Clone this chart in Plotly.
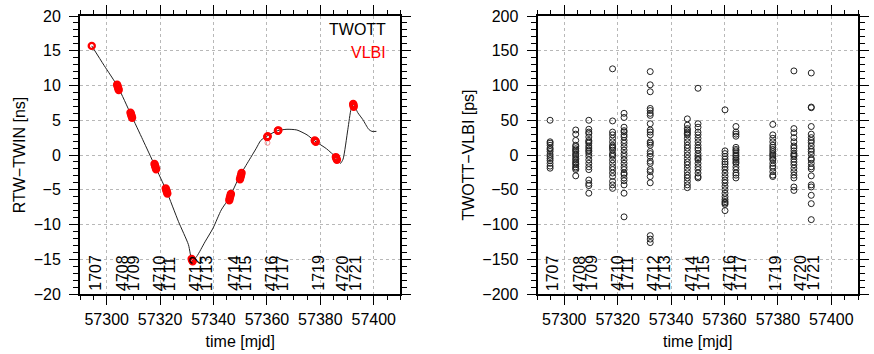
import plotly.graph_objects as go

# ---------------- data ----------------
# TWOTT curve (RTW-TWIN, ns)
twott_mjd = [57294.4, 57299.0, 57304.2, 57309.1, 57313.5, 57318.1, 57322.3, 57326.9, 57330.6,
             57332.0, 57333.7, 57336.8, 57339.85, 57342.9, 57346.0, 57349.7, 57353.4, 57355.9,
             57357.7, 57359.9, 57363.9, 57367.5, 57371.2, 57375.0, 57378.0, 57382.3, 57386.0,
             57387.5, 57388.5, 57390.3, 57391.5, 57392.4, 57394.0, 57395.9, 57398.1, 57399.3, 57401.0]
twott_ns = [15.7, 12.9, 9.8, 5.8, 2.2, -1.6, -5.1, -9.6, -12.9,
            -15.2, -14.6, -12.5, -10.5, -7.9, -6.1, -3.1, -0.7, 0.9,
            2.1, 2.7, 3.5, 3.7, 3.6, 2.9, 2.0, 0.9, -0.4,
            -1.2, -0.6, 3.7, 6.6, 7.3, 6.1, 5.1, 3.7, 3.4, 3.4]

# VLBI points (ns)
vlbi_mjd = [57294.4,
            57303.9, 57304.1, 57304.3, 57304.5,
            57308.9, 57309.1, 57309.3, 57309.5,
            57317.9, 57318.1, 57318.3, 57318.5,
            57322.1, 57322.3, 57322.5, 57322.7,
            57331.8, 57332.0, 57332.2,
            57345.9, 57346.1, 57346.3, 57346.5,
            57349.9, 57350.1, 57350.3, 57350.5,
            57360.1, 57360.3,
            57364.1, 57364.3,
            57377.9, 57378.1, 57378.3,
            57385.8, 57386.0, 57386.2,
            57392.3, 57392.4, 57392.5]
vlbi_ns = [15.7,
           10.1, 9.85, 9.6, 9.35,
           6.1, 5.85, 5.6, 5.35,
           -1.3, -1.55, -1.8, -2.05,
           -4.8, -5.05, -5.3, -5.55,
           -14.95, -15.15, -15.3,
           -6.5, -6.2, -5.9, -5.6,
           -3.5, -3.2, -2.9, -2.6,
           2.6, 2.7,
           3.5, 3.55,
           2.1, 2.0, 1.9,
           -0.3, -0.5, -0.7,
           7.35, 7.15, 6.95]
vlbi_faint_mjd = [57360.2]
vlbi_faint_ns = [1.75]

# session labels
session_labels = ["1707", "4708", "1709", "4710", "1711", "4712", "1713",
                  "4714", "1715", "4716", "1717", "1719", "4720", "1721"]
session_mjd = [57295.5, 57305.7, 57309.9, 57319.7, 57323.6, 57333.2, 57337.3,
               57347.6, 57351.9, 57361.6, 57365.7, 57379.0, 57388.2, 57393.0]

# TWOTT-VLBI differences (ps) per session
diff_mjd = [57294.7, 57304.3, 57309.2, 57318.1, 57322.4, 57332.2, 57346.1,
            57350.1, 57360.2, 57364.3, 57378.1, 57386.0, 57392.5]
d_1707 = [50, 19, 17, 14, 10, 8, 5, 1, -2, -5, -8, -12, -16, -19]
d_4708 = [36, 30, 21, 14, 12, 9, 7, 5, 2, 0, -2, -5, -7, -10, -12, -14, -17, -19, -21, -30]
d_1709 = [50, 37, 33, 31, 26, 21, 19, 17, 13, 10, 7, 5, 2, -2, -7, -12, -17, -21, -36, -41, -44, -55]
d_4710 = [124, 49, 33, 29, 24, 19, 14, 12, 10, 7, 2, 0, -2, -7, -12, -17, -21, -26, -31, -38, -43, -48]
d_1711 = [60, 54, 40, 35, 33, 29, 26, 21, 17, 12, 7, 2, -2, -7, -12, -17, -21, -26, -28, -33, -37,
          -43, -55, -89]
d_4712 = [120, 101, 91, 67, 64, 60, 57, 45, 36, 33, 29, 19, 17, 14, 5, 2, -2, -9, -12, -21, -24,
          -31, -40, -116, -121, -126]
d_4714 = [52, 43, 38, 36, 33, 31, 29, 24, 19, 14, 10, 5, 0, -5, -10, -14, -19, -24, -29, -33, -38,
          -43, -47]
d_1715 = [96, 45, 40, 33, 29, 24, 19, 14, 10, 7, 2, -2, -5, -7, -12, -17, -21, -26, -31, -33]
d_4716 = [65, 6, 2, -2, -6, -10, -13, -17, -21, -26, -31, -36, -40, -45, -50, -55, -60, -64, -67,
          -69, -71, -80]
d_1717 = [41, 33, 30, 27, 11, 8, 6, 3, 0, -2, -5, -7, -10, -12, -17, -21, -26, -29, -33]
d_1719 = [44, 29, 24, 19, 14, 11, 8, 5, 2, 0, -2, -5, -7, -12, -16, -19, -24, -29, -31]
d_4720 = [121, 38, 32, 25, 19, 13, 10, 6, 2, 0, -2, -6, -10, -14, -19, -24, -29, -33, -46, -51]
d_1721 = [118, 69, 68, 41, 30, 25, 21, 18, 13, 8, 5, 1, -5, -7, -12, -17, -20, -30, -43, -46, -58,
          -70, -93]
diff_groups = [d_1707, d_4708, d_1709, d_4710, d_1711, d_4712, d_4714, d_1715,
               d_4716, d_1717, d_1719, d_4720, d_1721]

# ---------------- figure ----------------
FONT = "Liberation Sans"
fig = go.Figure()

fig.add_trace(go.Scatter(x=twott_mjd, y=twott_ns, mode="lines",
                         line=dict(color="#222222", width=1, shape="spline", smoothing=0.6),
                         xaxis="x", yaxis="y", showlegend=False))
fig.add_trace(go.Scatter(x=vlbi_faint_mjd, y=vlbi_faint_ns, mode="markers",
                         marker=dict(symbol="circle-open", size=5, color="rgba(230,80,80,0.6)",
                                     line=dict(width=1)),
                         xaxis="x", yaxis="y", showlegend=False))
fig.add_trace(go.Scatter(x=vlbi_mjd, y=vlbi_ns, mode="markers",
                         marker=dict(symbol="circle-open", size=6, color="#ff0000",
                                     line=dict(width=2.4)),
                         xaxis="x", yaxis="y", showlegend=False))

sx, sy = [], []
for m, grp in zip(diff_mjd, diff_groups):
    sx += [m] * len(grp)
    sy += grp
fig.add_trace(go.Scatter(x=sx, y=sy, mode="markers",
                         marker=dict(symbol="circle-open", size=6, color="#222222",
                                     line=dict(width=1)),
                         xaxis="x2", yaxis="y2", showlegend=False))

common = dict(showline=True, linewidth=2, linecolor="black", mirror="allticks",
              ticks="outside", ticklen=9, tickwidth=1.3, tickcolor="black",
              showgrid=True, gridcolor="#b8b8b8", griddash="dot", gridwidth=1,
              zeroline=False,
              tickfont=dict(family=FONT, size=16, color="black"))

def xax(domain, anchor):
    return dict(common, domain=domain, anchor=anchor, range=[57290, 57410],
                tick0=57300, dtick=20, tickformat="d", ticklabelstandoff=1,
                minor=dict(ticks="outside", ticklen=4, tickwidth=1, tickcolor="black",
                           dtick=5, tick0=57300, showgrid=False),
                title=dict(text="time [mjd]", font=dict(family=FONT, size=16, color="black"),
                           standoff=9))

def yax(rng, dt, mdt, title, anchor):
    return dict(common, anchor=anchor, domain=[0, 1], range=rng, tick0=0, dtick=dt,
                ticklabelstandoff=5,
                minor=dict(ticks="outside", ticklen=5, tickwidth=1, tickcolor="black",
                           dtick=mdt, tick0=0, showgrid=False),
                title=dict(text=title, font=dict(family=FONT, size=16, color="black"),
                           standoff=4))

W = 874 - 80 - 5
fig.update_layout(
    width=874, height=354,
    margin=dict(l=80, r=5, t=16, b=60),
    paper_bgcolor="white", plot_bgcolor="white",
    font=dict(family=FONT, color="black"),
    xaxis=xax([0, 325 / W], "y"),
    yaxis=yax([-20, 20], 5, 1, "RTW\u2212TWIN [ns]", "x"),
    xaxis2=xax([(544 - 80) / W, 1], "y2"),
    yaxis2=yax([-200, 200], 50, 10, "TWOTT\u2212VLBI [ps]", "x2"),
)

ann = [
    dict(text="TWOTT", xref="x domain", yref="y domain", x=0.96, y=0.95,
         xanchor="right", yanchor="middle", showarrow=False,
         font=dict(family=FONT, size=16, color="black")),
    dict(text="VLBI", xref="x domain", yref="y domain", x=0.96, y=0.87,
         xanchor="right", yanchor="middle", showarrow=False,
         font=dict(family=FONT, size=16, color="#ff0000")),
]
for xr, yr, ybot in (("x", "y", -20), ("x2", "y2", -200)):
    for lab, m in zip(session_labels, session_mjd):
        ann.append(dict(text=lab, x=m, y=ybot, xref=xr, yref=yr, textangle=-90,
                        xanchor="center", yanchor="bottom", yshift=1, showarrow=False,
                        font=dict(family=FONT, size=16, color="black")))
fig.update_layout(annotations=ann)

fig.write_html("out.html")
